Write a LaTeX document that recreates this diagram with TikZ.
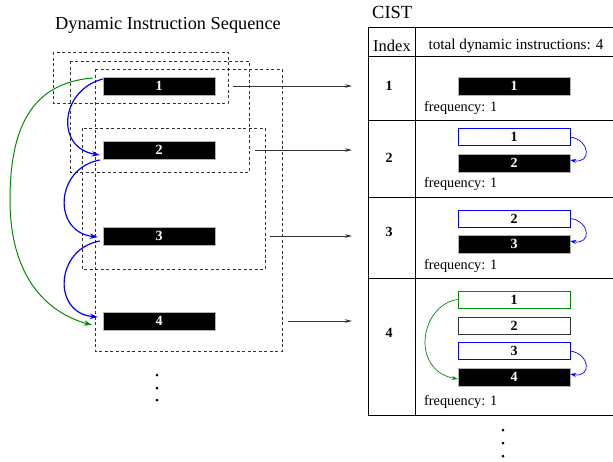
\documentclass[tikz,border=0pt]{standalone}
\usepackage{fontspec}
\setmainfont{Liberation Serif}
\usetikzlibrary{arrows.meta}
\begin{document}
\begin{tikzpicture}[x=1pt,y=-1pt,
  blackbar/.style={draw=gray!60,fill=black,text=white,minimum width=112pt,minimum height=18pt,inner sep=0pt,font=\fontsize{14}{14}\selectfont\bfseries},
  whitebar/.style={draw=#1,line width=0.8pt,fill=white,text=black,minimum width=112pt,minimum height=17pt,inner sep=0pt,font=\fontsize{14}{14}\selectfont\bfseries},
  dashbox/.style={draw=black!80,dashed,dash pattern=on 3pt off 2.5pt,line width=0.7pt},
  tline/.style={draw=black,line width=0.9pt},
  idx/.style={font=\fontsize{14}{14}\selectfont\bfseries},
  freq/.style={font=\fontsize{14.3}{14}\selectfont,anchor=west,inner sep=0pt},
  hop/.style={-{Stealth[length=8pt,width=5.5pt]},line width=1.2pt},
  small/.style={-{Stealth[length=6pt,width=4pt]},line width=0.7pt},
  seqarrow/.style={-{Stealth[length=7pt,width=3.5pt]},line width=0.6pt,black!80},
  dot/.style={circle,fill=black,inner sep=0pt,minimum size=3pt}]
\useasboundingbox (0,0) rectangle (613,461);

% ---- left: dynamic instruction sequence
\node[font=\fontsize{18.3}{18}\selectfont] (title) at (168,25) {Dynamic Instruction Sequence};

\node[blackbar] (s1) at (159,86) {1};
\node[blackbar] (s2) at (159,150) {2};
\node[blackbar] (s3) at (159,236) {3};
\node[blackbar] (s4) at (159,321) {4};

\draw[dashbox] (53,52) rectangle (228,103);
\draw[dashbox] (70,61) rectangle (249,172);
\draw[dashbox] (95,69) rectangle (282,351);
\draw[dashbox] (82,128) rectangle (265,269);

\coordinate (l1) at (233,86);
\coordinate (l2) at (255,150);
\coordinate (l3) at (270,236);
\coordinate (l4) at (288,321);
\coordinate (r1) at (352,86);
\coordinate (r2) at (352,150);
\coordinate (r3) at (352,236);
\coordinate (r4) at (352,321);
\draw[seqarrow] (l1) -- (r1);
\draw[seqarrow] (l2) -- (r2);
\draw[seqarrow] (l3) -- (r3);
\draw[seqarrow] (l4) -- (r4);

\draw[hop,blue] ([shift={(0,-7)}]s1.west) .. controls (60,90) and (55,148) .. ([shift={(-3,5)}]s2.west);
\draw[hop,blue] ([shift={(-3,10)}]s2.west) .. controls (55,168) and (52,232) .. ([shift={(-5,1)}]s3.west);
\draw[hop,blue] ([shift={(-3,5)}]s3.west) .. controls (55,249) and (52,313) .. ([shift={(-5,-4)}]s4.west);
\draw[hop,green!55!black,line width=1pt] ([shift={(-10,-8)}]s1.west) .. controls (30,83) and (10,130) .. (10,200)
   .. controls (10,275) and (45,312) .. ([shift={(-11,4)}]s4.west);

\node[dot] (d1) at (157,375) {};
\node[dot] (d2) at (157,388) {};
\node[dot] (d3) at (157,400) {};

% ---- right: CIST table
\node[font=\fontsize{18.5}{18}\selectfont,anchor=west,inner sep=0pt] (cist) at (372,12) {CIST};
\draw[tline] (613,27) -- (368,27) -- (368,415) -- (613,415);
\draw[tline] (415,27) -- (415,415);
\draw[tline] (368,56) -- (613,56);
\draw[tline] (368,120) -- (613,120);
\draw[tline] (368,197) -- (613,197);
\draw[tline] (368,278) -- (613,278);

\node[font=\fontsize{16.5}{16}\selectfont] (hidx) at (392,46) {Index};
\node[font=\fontsize{15.2}{15}\selectfont] (htot) at (516,46) {total dynamic instructions: 4};

% row 1
\node[idx] (i1) at (389,86) {1};
\node[blackbar] (a11) at (514,86) {1};
\node[freq] (f1) at (424,108) {frequency: 1};
% row 2
\node[idx] (i2) at (389,158) {2};
\node[whitebar=blue] (a21) at (514,137) {1};
\node[blackbar] (a22) at (514,163) {2};
\node[freq] (f2) at (424,184) {frequency: 1};
\draw[small,blue] (a21.east) .. controls (590,140) and (592,164) .. ([yshift=3pt]a22.east);
% row 3
\node[idx] (i3) at (389,232) {3};
\node[whitebar=blue] (a31) at (514,218.5) {2};
\node[blackbar] (a32) at (514,244) {3};
\node[freq] (f3) at (424,266) {frequency: 1};
\draw[small,blue] (a31.east) .. controls (590,221) and (592,245) .. ([yshift=3pt]a32.east);
% row 4
\node[idx] (i4) at (389,333) {4};
\node[whitebar=green!55!black] (a41) at (514,299.5) {1};
\node[whitebar=black!80] (a42) at (514,325.5) {2};
\node[whitebar=blue] (a43) at (514,351) {3};
\node[blackbar] (a44) at (514,377) {4};
\node[freq] (f4) at (424,402) {frequency: 1};
\draw[small,green!55!black] (a41.west) .. controls (420,305) and (410,370) .. ([yshift=-2pt]a44.west);
\draw[small,blue] (a43.east) .. controls (590,354) and (592,378) .. ([yshift=3pt]a44.east);

\node[dot] (e1) at (503,430) {};
\node[dot] (e2) at (503,443) {};
\node[dot] (e3) at (503,456) {};
\end{tikzpicture}
\end{document}
